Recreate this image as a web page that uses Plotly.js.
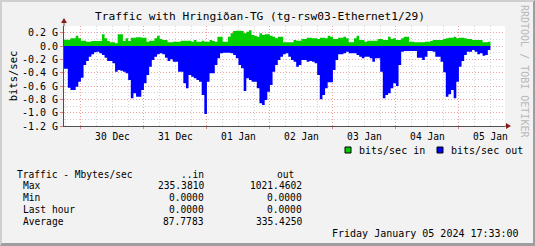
<!DOCTYPE html>
<html><head><meta charset="utf-8">
<script src="https://cdn.plot.ly/plotly-3.0.1.min.js"></script>
<style>
html,body{margin:0;padding:0;background:#f2f2f2;}
#wrap{position:relative;width:535px;height:246px;}
#chart{position:absolute;left:0;top:0;width:535px;height:246px;}
#frame{position:absolute;left:0;top:0;width:535px;height:246px;box-sizing:border-box;
 border-left:2px solid #cfcfcf;border-top:2px solid #cfcfcf;border-right:2px solid #9e9e9e;border-bottom:3px solid #9e9e9e;pointer-events:none;}
</style></head>
<body><div id="wrap"><div id="chart"></div><div id="frame"></div></div>
<script>
// hourly samples (G bits/sec) starting 2023-12-29 17:00
const startTime = Date.UTC(2023, 11, 29, 17, 0, 0);
const bitsIn = [
0.095,0.095,0.095,0.115,0.115,0.155,0.115,0.08,0.08,0.065,0.065,0.075,0.075,0.075,0.075,0.175,0.115,0.075,0.055,0.055,
0.04,0.175,0.175,0.075,0.115,0.075,0.125,0.125,0.13,0.13,0.125,0.125,0.065,0.08,0.08,0.115,0.155,0.105,0.09,0.09,
0.055,0.055,0.065,0.065,0.065,0.08,0.08,0.08,0.08,0.065,0.09,0.065,0.065,0.08,0.065,0.065,0.09,0.075,0.065,0.14,
0.14,0.065,0.065,0.14,0.19,0.225,0.23,0.23,0.225,0.19,0.215,0.235,0.165,0.155,0.14,0.19,0.165,0.175,0.175,0.155,
0.14,0.115,0.14,0.14,0.055,0.055,0.055,0.055,0.09,0.08,0.08,0.105,0.105,0.125,0.125,0.115,0.115,0.105,0.125,0.125,
0.115,0.155,0.14,0.105,0.105,0.125,0.125,0.14,0.115,0.055,0.055,0.115,0.155,0.09,0.09,0.065,0.08,0.08,0.08,0.08,
0.105,0.105,0.09,0.09,0.14,0.105,0.115,0.09,0.09,0.115,0.14,0.14,0.065,0.065,0.055,0.055,0.055,0.055,0.065,0.065,
0.075,0.09,0.09,0.09,0.09,0.105,0.115,0.125,0.125,0.14,0.115,0.125,0.125,0.115,0.105,0.105,0.09,0.09,0.09,0.09,
0.055,0.055,0.065,
0,0,0,0,0,0];
const bitsOut = [
-0.34,-0.34,-0.625,-0.66,-0.66,-0.61,-0.535,-0.475,-0.285,-0.225,-0.16,-0.125,-0.095,-0.085,-0.11,-0.135,-0.175,-0.225,-0.225,-0.26,
-0.385,-0.36,-0.37,-0.385,-0.41,-0.51,-0.785,-0.71,-0.76,-0.76,-0.66,-0.56,-0.435,-0.31,-0.21,-0.16,-0.125,-0.11,-0.125,-0.175,
-0.225,-0.2,-0.235,-0.235,-0.385,-0.385,-0.56,-0.635,-0.435,-0.46,-0.485,-0.51,-0.535,-0.735,-1.02,-0.535,-0.41,-0.41,-0.285,-0.185,
-0.11,-0.1,-0.1,-0.1,-0.11,-0.135,-0.185,-0.285,-0.335,-0.675,-0.485,-0.51,-0.535,-0.535,-0.635,-0.86,-0.885,-0.81,-0.685,-0.585,
-0.385,-0.285,-0.21,-0.16,-0.125,-0.11,-0.16,-0.21,-0.235,-0.31,-0.285,-0.21,-0.21,-0.235,-0.225,-0.235,-0.26,-0.435,-0.8,-0.735,
-0.635,-0.545,-0.545,-0.36,-0.21,-0.125,-0.125,-0.11,-0.085,-0.11,-0.11,-0.11,-0.135,-0.16,-0.185,-0.16,-0.16,-0.185,-0.235,-0.185,
-0.185,-0.385,-0.785,-0.735,-0.71,-0.635,-0.56,-0.6,-0.285,-0.085,-0.075,-0.075,-0.075,-0.075,-0.075,-0.175,-0.175,-0.21,-0.16,-0.075,
-0.075,-0.085,-0.16,-0.16,-0.235,-0.395,-0.76,-0.725,-0.66,-0.785,-0.535,-0.31,-0.225,-0.135,-0.085,-0.085,-0.06,-0.085,-0.125,-0.11,
-0.145,-0.135,-0.06,
0,0,0,0,0,0];
const dayGrid = ['2023-12-30','2023-12-31','2024-01-01','2024-01-02','2024-01-03','2024-01-04','2024-01-05'];
const dayLabelPos = ['2023-12-30 12:00','2023-12-31 12:00','2024-01-01 12:00','2024-01-02 12:00','2024-01-03 12:00','2024-01-04 12:00','2024-01-05 12:00'];
const dayLabels = ['30 Dec','31 Dec','01 Jan','02 Jan','03 Jan','04 Jan','05 Jan'];
const yTickVals = [0.2,0,-0.2,-0.4,-0.6,-0.8,-1.0,-1.2];
const yTickText = ['0.2 G','0.0','-0.2 G','-0.4 G','-0.6 G','-0.8 G','-1.0 G','-1.2 G'];
const seriesNames = ['bits/sec in','bits/sec out'];
const seriesColors = ['#00cc00','#0000ff'];
const statHeader = ['Traffic - Mbytes/sec','..in','out'];
const statLabels = ['Max','Min','Last hour','Average'];
const statIn = ['235.3810','0.0000','0.0000','87.7783'];
const statOut = ['1021.4602','0.0000','0.0000','335.4250'];
const stamp = 'Friday January 05 2024 17:33:00';
const titleText = 'Traffic with Hringiðan-TG (tg-rsw03-Ethernet1/29)';

const times = bitsIn.map((_, i) => startTime + i * 3600000);
const MONO = 'DejaVu Sans Mono';
// pixel -> paper helpers (plot area x 64..505, y 26..126)
const L = 64, T = 26, W = 441, H = 100;
const px = x => (x - L) / W;
const py = y => (T + H - y) / H;

const traces = [
  {x: times, y: bitsIn, type: 'scatter', mode: 'lines', line: {shape: 'hv', width: 0, color: seriesColors[0]},
   fill: 'tozeroy', fillcolor: seriesColors[0], name: seriesNames[0], showlegend: false, hoverinfo: 'skip'},
  {x: times, y: bitsOut, xaxis: 'x2', type: 'scatter', mode: 'lines', line: {shape: 'hv', width: 0, color: seriesColors[1]},
   fill: 'tozeroy', fillcolor: seriesColors[1], name: seriesNames[1], showlegend: false, hoverinfo: 'skip'}
];

const xr = ['2023-12-29 17:33', '2024-01-05 17:33'];
const ann = [];
const shapes = [];
const fs = 9.6;
const txt = (x, y, text, anchor, size) => ann.push({x: px(x), y: py(y), xref: 'paper', yref: 'paper', text: text,
  xanchor: anchor, yanchor: 'middle', showarrow: false, font: {family: MONO, size: size || fs, color: '#000'}});
txt(15, 174.5, statHeader[0], 'left');
txt(206, 174.5, statHeader[1], 'right');
txt(296, 174.5, statHeader[2], 'right');
const rowY = [185.8, 197.8, 209.8, 221.8];
statLabels.forEach((lab, i) => {
  txt(21, rowY[i], lab, 'left');
  txt(206, rowY[i], statIn[i], 'right');
  txt(304, rowY[i], statOut[i], 'right');
});
txt(521, 233, stamp, 'right', 10);
ann.push({x: px(525), y: py(71), xref: 'paper', yref: 'paper', text: 'RRDTOOL / TOBI OETIKER', textangle: 90, xanchor: 'center', yanchor: 'middle', showarrow: false, font: {family: MONO, size: 10, color: '#b8b8b8'}});

// legend (squares + labels)
const legX = [345, 437];
seriesNames.forEach((nm, i) => {
  shapes.push({type: 'rect', xref: 'paper', yref: 'paper', x0: px(legX[i]), x1: px(legX[i] + 6), y0: py(147), y1: py(153),
               fillcolor: seriesColors[i], line: {color: '#000', width: 1}});
  txt(legX[i] + 12, 150, nm, 'left', 10);
});

const axisCol = '#505050', arrowCol = '#8b1a1a';
shapes.push(
  {type: 'line', xref: 'paper', yref: 'paper', x0: 0, x1: 0, y0: 1, y1: py(21), line: {color: axisCol, width: 1}},
  {type: 'line', xref: 'paper', yref: 'paper', x0: 1, x1: px(507), y0: 0, y1: 0, line: {color: axisCol, width: 1}},
  {type: 'path', xref: 'paper', yref: 'paper', path: `M${px(64)},${py(18)} L${px(61)},${py(23)} L${px(67)},${py(23)} Z`, fillcolor: arrowCol, line: {width: 0}},
  {type: 'path', xref: 'paper', yref: 'paper', path: `M${px(511)},${py(126)} L${px(506)},${py(123)} L${px(506)},${py(129)} Z`, fillcolor: arrowCol, line: {width: 0}}
);

const layout = {
  width: 535, height: 246,
  margin: {l: L, r: 535 - L - W, t: T, b: 246 - T - H, pad: 0},
  paper_bgcolor: '#f2f2f2', plot_bgcolor: '#ffffff',
  font: {family: MONO, size: 10, color: '#000'},
  title: {text: titleText, x: 260 / 535, xref: 'container', xanchor: 'center', y: 1 - 16.5 / 246, yref: 'container', yanchor: 'middle',
          font: {family: MONO, size: 11.2, color: '#000'}},
  xaxis: {type: 'date', range: xr, tickvals: dayGrid, showticklabels: false, ticks: 'outside', ticklen: 2, tickcolor: '#e08080',
          showgrid: true, gridcolor: '#f0a0a0', griddash: '1px,2px', gridwidth: 1,
          minor: {dtick: 6 * 3600000, tick0: dayGrid[0], showgrid: true, gridcolor: '#d4d4d4', griddash: '1px,2px', ticks: ''},
          showline: true, linecolor: axisCol, linewidth: 1, zeroline: false, fixedrange: true},
  xaxis2: {type: 'date', overlaying: 'x', anchor: 'y', side: 'bottom', range: xr, tickvals: dayLabelPos, ticktext: dayLabels,
           showgrid: false, ticks: '', showline: false, zeroline: false, tickfont: {family: MONO, size: 9.6, color: '#000'}, ticklabelstandoff: 3},
  yaxis: {range: [-1.2, 0.3], tickvals: yTickVals, ticktext: yTickText, ticks: 'outside', ticklen: 3, tickcolor: '#e08080',
          tickfont: {family: MONO, size: 10, color: '#000'},
          showgrid: true, gridcolor: '#f0a0a0', griddash: '1px,2px', gridwidth: 1,
          minor: {dtick: 0.1, tick0: 0, showgrid: true, gridcolor: '#d4d4d4', griddash: '1px,2px', ticks: ''},
          showline: true, linecolor: axisCol, linewidth: 1, zeroline: false, fixedrange: true,
          title: {text: 'bits/sec', font: {family: MONO, size: 10.5, color: '#000'}, standoff: 2}},
  showlegend: false,
  annotations: ann,
  shapes: shapes
};
Plotly.newPlot('chart', traces, layout, {displayModeBar: false, staticPlot: true});
</script></body></html>
